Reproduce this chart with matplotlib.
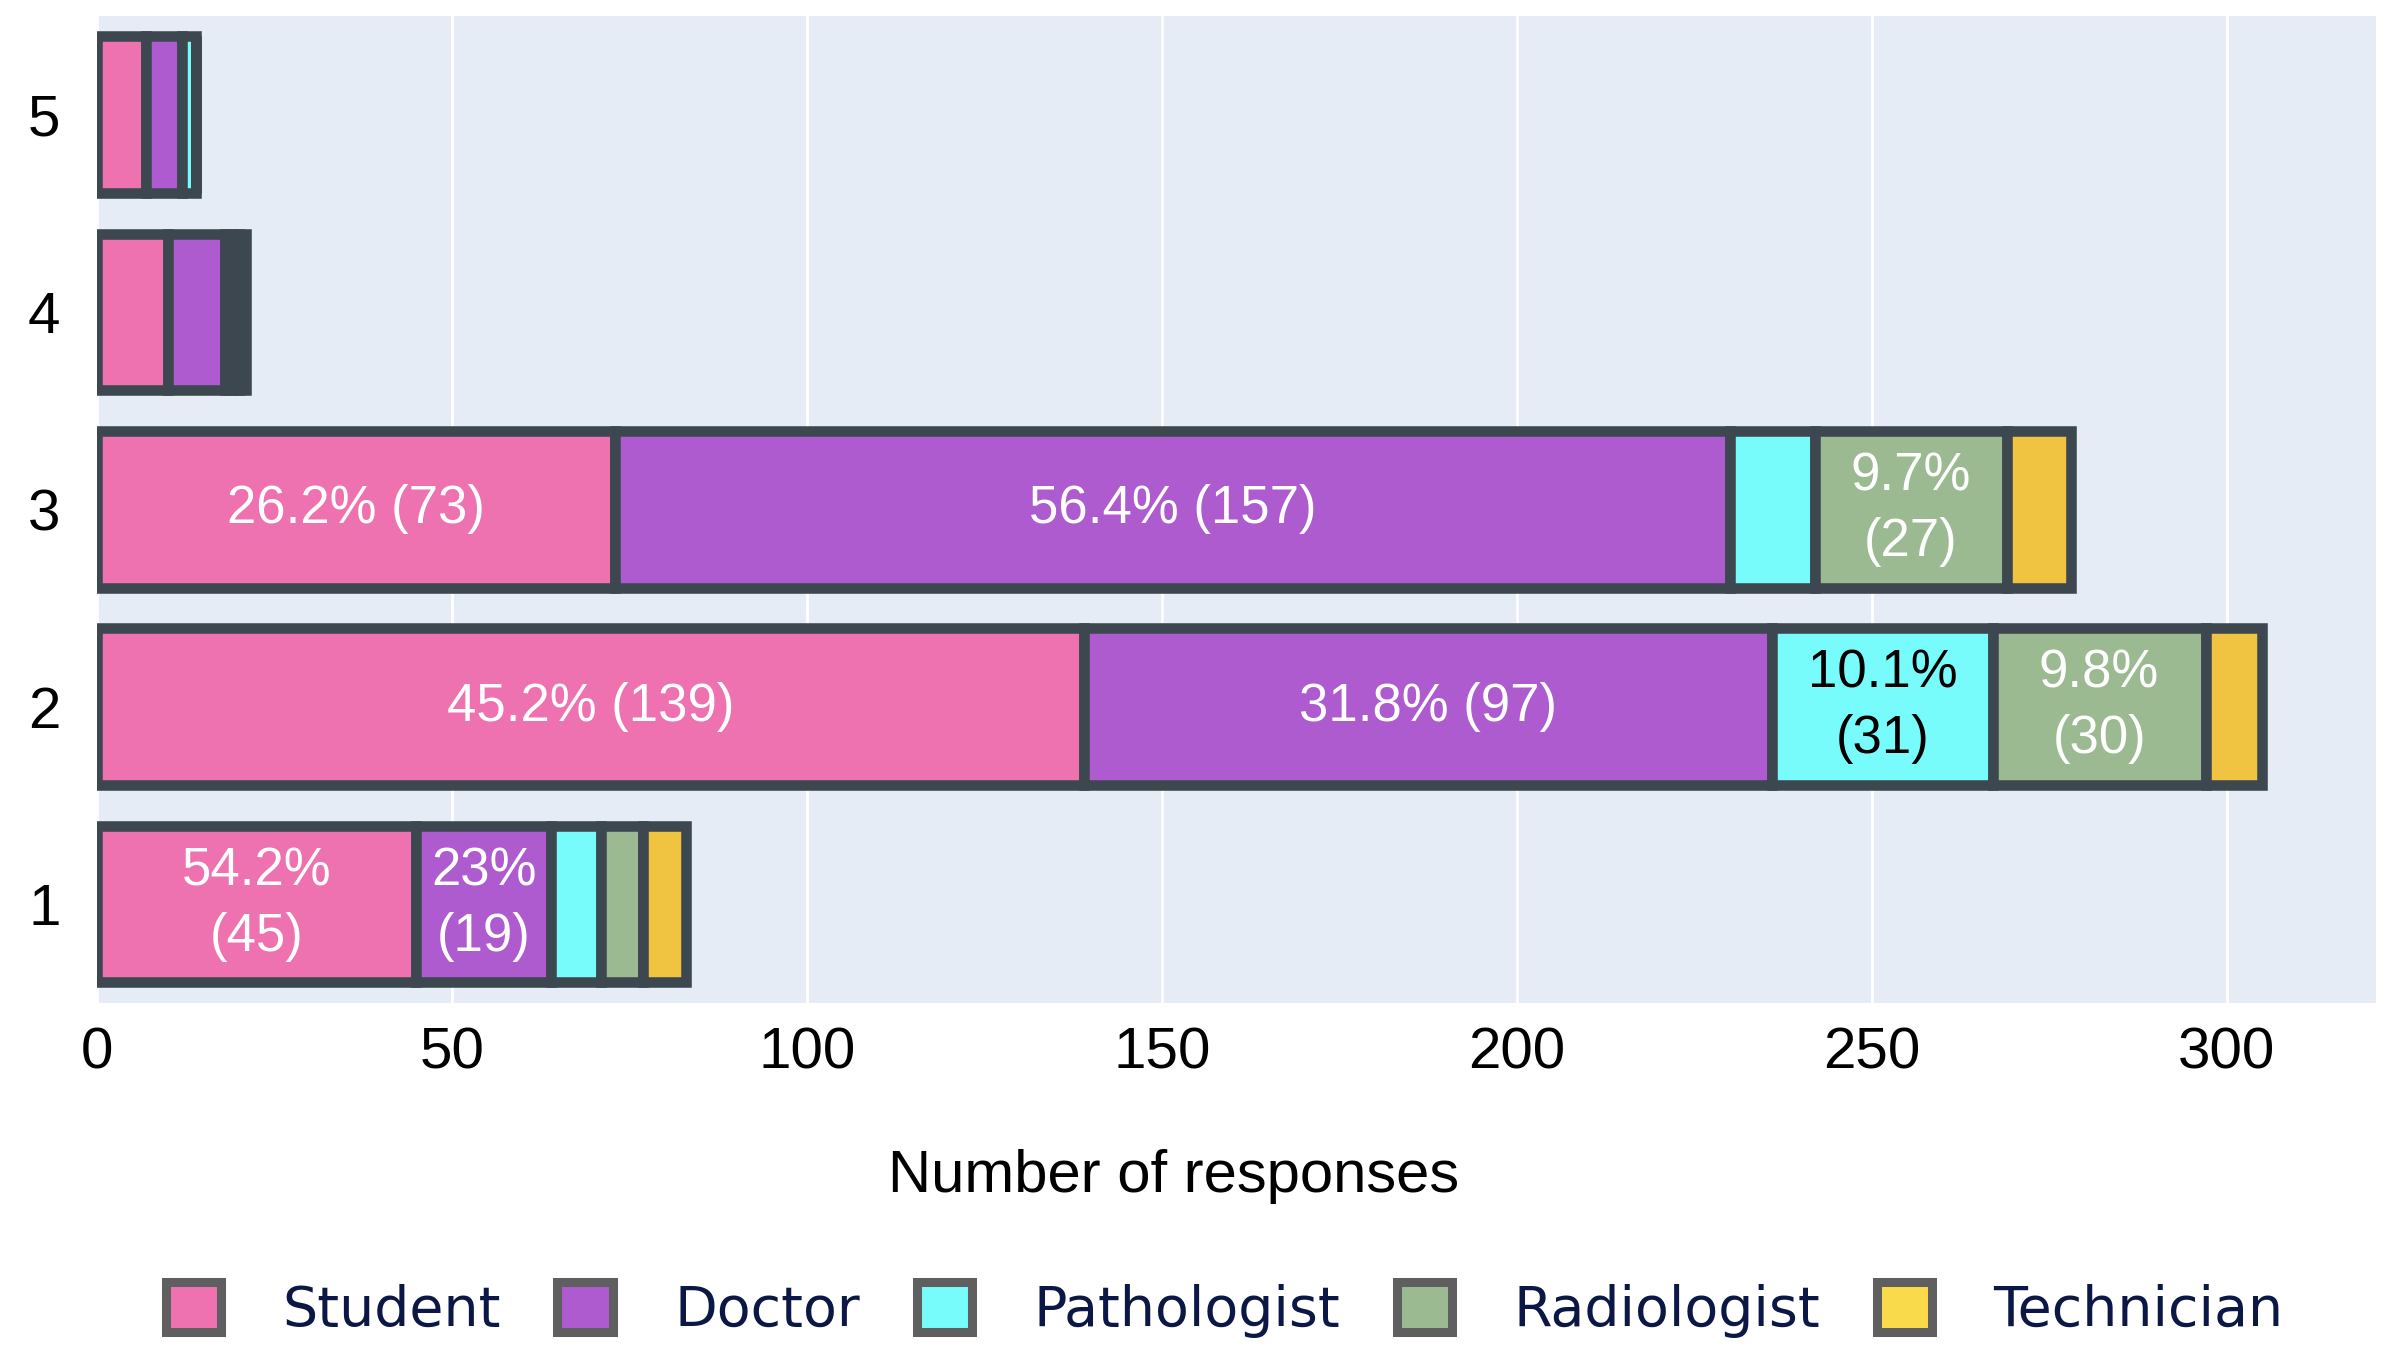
import matplotlib.pyplot as plt
from matplotlib.patches import Patch
import numpy as np

# --- Data --------------------------------------------------------------------
rows = ['1', '2', '3', '4', '5']
categories = ['Student', 'Doctor', 'Pathologist', 'Radiologist', 'Technician']

student = [45, 139, 73, 10, 7]
doctor = [19, 97, 157, 8, 5]
pathologist = [7, 31, 12, 1, 2]
radiologist = [6, 30, 27, 1, 0]
technician = [6, 8, 9, 1, 0]

# percentages printed inside the bars (None = no label shown)
student_pct = [54.2, 45.2, 26.2, None, None]
doctor_pct = [23, 31.8, 56.4, None, None]
pathologist_pct = [None, 10.1, None, None, None]
radiologist_pct = [None, 9.8, 9.7, None, None]
technician_pct = [None, None, None, None, None]

x_ticks = [0, 50, 100, 150, 200, 250, 300]

# --- Style -------------------------------------------------------------------
bar_colors = ['#ED72AF', '#AD5BCF', '#78FBFB', '#9BBA92', '#F0C341']
legend_colors = ['#ED72AF', '#AD5BCF', '#78FBFB', '#9BBA92', '#F9DA4A']
text_colors = ['white', 'white', 'black', 'white', 'white']
EDGE = '#3C4750'

plt.rcParams['font.family'] = ['Liberation Sans', 'DejaVu Sans']

fig = plt.figure(figsize=(23.94, 13.62), dpi=100)
ax = fig.add_axes([0.0404, 0.2638, 0.9521, 0.7245])
ax.set_facecolor('#E5ECF6')
for s in ax.spines.values():
    s.set_visible(False)

series = [student, doctor, pathologist, radiologist, technician]
pcts = [student_pct, doctor_pct, pathologist_pct, radiologist_pct, technician_pct]
y = np.arange(1, len(rows) + 1)
left = np.zeros(len(rows))

for vals, pct, col, tcol in zip(series, pcts, bar_colors, text_colors):
    vals = np.array(vals, dtype=float)
    ax.barh(y, vals, left=left, height=0.793, color=col,
            edgecolor=EDGE, linewidth=7.6, zorder=3)
    for yi, v, l, p in zip(y, vals, left, pct):
        if p is None:
            continue
        sep = ' ' if v > 60 else '\n'
        ax.text(l + v / 2, yi, f'{p:g}%{sep}({int(v)})', ha='center', va='center',
                fontsize=38, color=tcol, linespacing=1.4, zorder=4)
    left = left + vals

ax.set_xlim(0, 321)
ax.set_ylim(0.5, 5.5)
ax.set_xticks(x_ticks)
ax.set_yticks(y)
ax.set_yticklabels(rows)
ax.tick_params(axis='both', length=0, labelsize=42, colors='black')
ax.tick_params(axis='x', pad=17)
ax.tick_params(axis='y', pad=26)
ax.grid(axis='x', color='white', linewidth=2, zorder=0)
ax.set_axisbelow(True)

fig.text(0.4904, 0.1365, 'Number of responses', ha='center', va='center',
         fontsize=43, color='black')

handles = [Patch(facecolor=c, edgecolor='#5F5F5F', linewidth=6.5) for c in legend_colors]
leg = fig.legend(handles, categories, loc='center', bbox_to_anchor=(0.5115, 0.0382),
                 ncol=5, frameon=False, handlelength=1.0, handleheight=1.0,
                 handletextpad=1.1, columnspacing=1.02, borderpad=0,
                 prop={'family': 'DejaVu Sans', 'size': 40})
for t in leg.get_texts():
    t.set_color('#0B1846')

fig.savefig('out.png', dpi=100, facecolor='white')
